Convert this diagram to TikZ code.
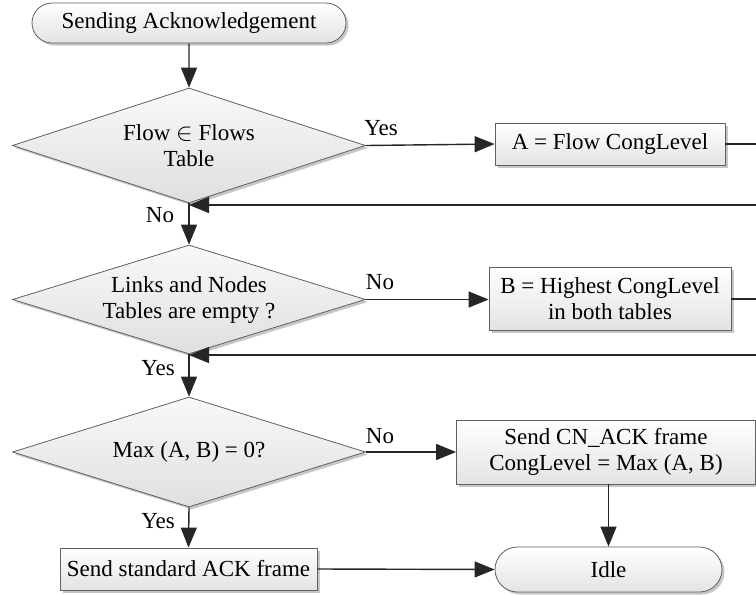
\documentclass[tikz,border=0pt]{standalone}
\usepackage{fontspec}
\setmainfont{Liberation Serif}
\usetikzlibrary{shapes.geometric,shapes.misc,shadows,arrows.meta}
\begin{document}
\begin{tikzpicture}[x=1pt,y=1pt,
  font=\fontsize{23}{26}\selectfont,
  shad/.style={drop shadow={shadow xshift=2.5pt,shadow yshift=-2.5pt,opacity=0.55,fill=gray!80}},
  term/.style={rounded rectangle,draw=gray!75!black,line width=0.8pt,top color=white,bottom color=gray!22,shad,inner sep=0pt,align=center},
  proc/.style={rectangle,draw=gray!75!black,line width=0.8pt,top color=white,bottom color=gray!22,shad,inner sep=0pt,align=center},
  dec/.style={diamond,draw=gray!75!black,line width=0.8pt,top color=gray!5,bottom color=gray!25,shad,inner sep=0pt},
  dtext/.style={align=center,inner sep=0pt},
  conn/.style={line width=1.4pt,draw=black!85},
  arr/.style={conn,-{Triangle[length=20pt,width=16pt]}},
  lab/.style={inner sep=0pt,anchor=base}
]
\useasboundingbox (0,0) rectangle (756,-595);

\node[term,minimum width=314pt,minimum height=40pt] (start) at (189,-23) {Sending Acknowledgement};
\node[dec,minimum width=353pt,minimum height=115pt] (d1) at (189,-145.5) {};
\node[dtext] (t1) at (d1) {Flow $\in$ Flows\\Table};
\node[proc,minimum width=230pt,minimum height=42pt] (pa) at (610,-144) {A = Flow CongLevel};
\node[dec,minimum width=353pt,minimum height=109pt] (d2) at (189,-299.5) {};
\node[dtext] (t2) at (d2) {Links and Nodes\\Tables are empty ?};
\node[proc,minimum width=242pt,minimum height=63pt] (pb) at (610,-298.5) {B = Highest CongLevel\\in both tables};
\node[dec,minimum width=353pt,minimum height=110pt] (d3) at (189,-452) {};
\node[dtext] (t3) at (d3) {Max (A, B) = 0?};
\node[proc,minimum width=299pt,minimum height=64pt] (pc) at (606,-452) {Send CN\_ACK frame\\CongLevel = Max (A, B)};
\node[proc,minimum width=257pt,minimum height=42pt] (pd) at (188.5,-569) {Send standard ACK frame};
\node[term,minimum width=227pt,minimum height=45pt] (idle) at (608.5,-569.5) {Idle};

\coordinate (ea) at (756,-144);
\coordinate (ra) at (756,-205);
\coordinate (ja) at (189,-205);
\coordinate (eb) at (756,-299);
\coordinate (rb) at (756,-355);
\coordinate (jb) at (189,-355);

\draw[arr] (start) -- (d1.north);
\draw[arr] (d1.east) -- (pa.west);
\draw[conn] (pa.east) -- (ea);
\draw[arr] (ra) -- (ja);
\draw[arr] (d1.south) -- (d2.north);
\draw[arr] (d2.east) -- (pb.west |- d2.east);
\draw[conn] (pb.east |- eb) -- (eb);
\draw[arr] (rb) -- (jb);
\draw[arr] (d2.south) -- (d3.north);
\draw[arr] (d3.east) -- (pc.west |- d3.east);
\draw[arr] (d3.south) -- (pd.north);
\draw[arr] (pc.south -| idle.north) -- (idle.north);
\draw[arr] (pd.east) -- (idle.west);

\node[lab] (y1) at (381,-135) {Yes};
\node[lab] (n1) at (160,-222) {No};
\node[lab] (n2) at (380,-289) {No};
\node[lab] (y2) at (158,-375) {Yes};
\node[lab] (n3) at (380,-443) {No};
\node[lab] (y3) at (158,-528) {Yes};
\end{tikzpicture}
\end{document}
